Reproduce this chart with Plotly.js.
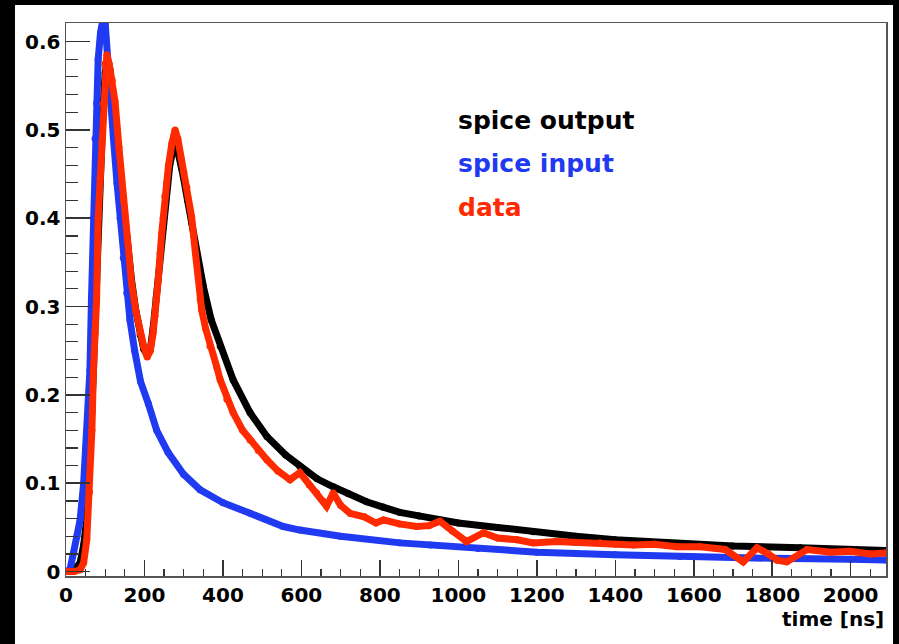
<!DOCTYPE html>
<html>
<head>
<meta charset="utf-8">
<script src="https://cdn.plot.ly/plotly-3.0.1.min.js"></script>
<style>
  html, body { margin: 0; padding: 0; background: #000; width: 899px; height: 644px; overflow: hidden; }
  #chart { position: absolute; left: 15px; top: 5px; width: 878px; height: 639px; background: #fff; }
</style>
</head>
<body>
<div id="chart"></div>
<script>
// ---- data ----
const seriesNames = ["spice output", "spice input", "data"];

const blackX = [0, 20, 36, 45, 53, 60, 66, 70, 74, 78, 82, 87, 91, 95, 100, 105, 112, 118, 125, 135,
  146, 156, 167, 178, 189, 198, 207, 215, 222, 230, 240, 248, 257, 265, 272, 278, 285, 292, 299, 310,
  320, 335, 350, 370, 393, 426, 469, 512, 560, 596, 640, 681, 720, 766, 808, 851, 900, 953, 1000, 1100,
  1191, 1300, 1400, 1532, 1700, 1871, 2000, 2090];
const blackY = [0, 0.001, 0.01, 0.03, 0.06, 0.12, 0.18, 0.228, 0.28, 0.33, 0.40, 0.45, 0.49, 0.53, 0.565, 0.578, 0.568, 0.548, 0.515, 0.465,
  0.415, 0.372, 0.33, 0.295, 0.268, 0.252, 0.245, 0.252, 0.275, 0.31, 0.36, 0.40, 0.44, 0.462, 0.475, 0.479, 0.476, 0.464, 0.447, 0.42,
  0.395, 0.355, 0.323, 0.285, 0.255, 0.217, 0.18, 0.153, 0.132, 0.119, 0.105, 0.096, 0.088, 0.079, 0.073, 0.067, 0.063, 0.0585, 0.055, 0.050,
  0.045, 0.040, 0.036, 0.0325, 0.029, 0.027, 0.025, 0.024];

const blueX = [0, 10, 19, 28, 36, 45, 52, 57, 61, 65, 70, 74, 78, 82, 88, 94, 100, 106, 112, 121,
  130, 138, 146, 155, 163, 175, 190, 210, 231, 260, 300, 342, 400, 469, 554, 596, 700, 851, 928, 1050,
  1200, 1400, 1565, 1800, 2000, 2090];
const blueY = [0, 0.002, 0.021, 0.04, 0.0585, 0.10, 0.145, 0.19, 0.228, 0.31, 0.40, 0.49, 0.53, 0.58, 0.61, 0.625, 0.62, 0.575, 0.534, 0.49,
  0.44, 0.40, 0.355, 0.315, 0.285, 0.25, 0.215, 0.19, 0.16, 0.135, 0.11, 0.0925, 0.078, 0.066, 0.051, 0.047, 0.040, 0.0325, 0.030, 0.026,
  0.022, 0.019, 0.017, 0.015, 0.014, 0.013];

const redX = [0, 20, 36, 45, 53, 60, 66, 70, 74, 78, 82, 87, 91, 95, 99, 104, 110, 118, 125, 135,
  146, 156, 167, 178, 189, 198, 207, 215, 222, 227, 235, 244, 252, 261, 270, 278, 285, 293, 300, 308,
  320, 330, 342, 346, 356, 367, 384, 393, 410, 426, 450, 469, 490, 512, 540, 571, 596, 620, 639, 655,
  664, 681, 700, 724, 760, 790, 809, 850, 894, 925, 953, 985, 1021, 1064, 1100, 1150, 1191, 1250, 1300, 1361,
  1400, 1446, 1500, 1557, 1616, 1680, 1726, 1761, 1790, 1812, 1837, 1889, 1950, 1998, 2050, 2090];
const redY = [0, 0, 0.002, 0.01, 0.036, 0.09, 0.16, 0.228, 0.27, 0.308, 0.40, 0.445, 0.485, 0.53, 0.575, 0.585, 0.575, 0.556, 0.532, 0.48,
  0.421, 0.375, 0.327, 0.295, 0.27, 0.255, 0.243, 0.25, 0.27, 0.289, 0.33, 0.383, 0.425, 0.459, 0.485, 0.50, 0.49, 0.468, 0.452, 0.435,
  0.402, 0.36, 0.308, 0.296, 0.275, 0.255, 0.232, 0.217, 0.195, 0.18, 0.16, 0.149, 0.137, 0.1265, 0.114, 0.104, 0.112, 0.098, 0.089, 0.08,
  0.074, 0.089, 0.075, 0.066, 0.062, 0.055, 0.0585, 0.054, 0.051, 0.052, 0.057, 0.046, 0.034, 0.044, 0.038, 0.036, 0.0325, 0.034, 0.033, 0.0325,
  0.031, 0.030, 0.031, 0.028, 0.028, 0.025, 0.011, 0.027, 0.02, 0.013, 0.011, 0.025, 0.022, 0.023, 0.020, 0.021];

const xAxisTitle = "time [ns]";

// ---- styling ----
const colBlack = "#000000", colBlue = "#1f3af0", colRed = "#ff2a00";
const FONT = "DejaVu Sans";

function trace(x, y, color, name) {
  return {
    type: "scatter", mode: "lines+markers", x: x, y: y, name: name,
    line: { color: color, width: 7 },
    marker: { color: color, size: 7 },
    cliponaxis: true, hoverinfo: "skip"
  };
}

const data = [
  trace(blackX, blackY, colBlack, seriesNames[0]),
  trace(blueX, blueY, colBlue, seriesNames[1]),
  trace(redX, redY, colRed, seriesNames[2])
];

const legendColors = [colBlack, colBlue, colRed];
const legendY = [0.5105, 0.4616, 0.4118];
const annotations = seriesNames.map((n, i) => ({
  text: n, xref: "x", yref: "y", x: 995, y: legendY[i],
  xanchor: "left", yanchor: "middle", showarrow: false,
  font: { family: FONT, size: 25, weight: "bold", color: legendColors[i] }
}));
annotations.push({
  text: xAxisTitle, xref: "paper", yref: "paper", x: 1, y: -0.078,
  xanchor: "right", yanchor: "middle", showarrow: false,
  font: { family: FONT, size: 20, weight: "bold", color: "#000" }
});

const axisCommon = {
  showgrid: false, zeroline: false, showline: true, mirror: true,
  linecolor: "#555", linewidth: 1.5,
  ticks: "inside", tickcolor: "#333", tickwidth: 1.5,
  tickfont: { family: FONT, size: 20, weight: "bold", color: "#000" }
};

const layout = {
  width: 878, height: 639,
  margin: { l: 51, r: 7, t: 18, b: 68 },
  paper_bgcolor: "#fff", plot_bgcolor: "#fff",
  showlegend: false,
  xaxis: Object.assign({}, axisCommon, {
    range: [0, 2090], dtick: 200, tick0: 0, ticklen: 16,
    minor: { dtick: 50, ticklen: 7, ticks: "inside", tickcolor: "#333", tickwidth: 1.2, showgrid: false }
  }),
  yaxis: Object.assign({}, axisCommon, {
    range: [-0.005, 0.621], dtick: 0.1, tick0: 0, ticklen: 24,
    minor: { dtick: 0.02, ticklen: 12, ticks: "inside", tickcolor: "#333", tickwidth: 1.2, showgrid: false }
  }),
  annotations: annotations
};

Plotly.newPlot("chart", data, layout, { staticPlot: true, displayModeBar: false });
</script>
</body>
</html>
